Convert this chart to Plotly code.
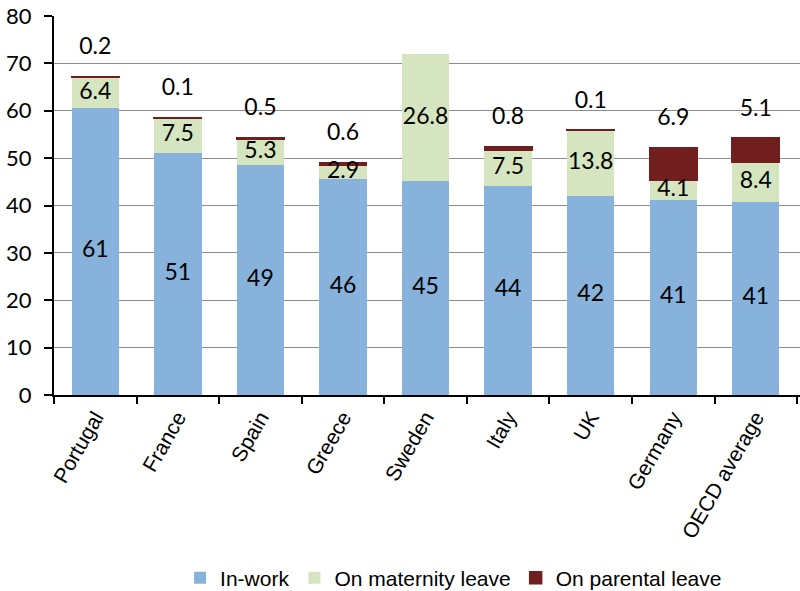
import plotly.graph_objects as go

countries = ["Portugal", "France", "Spain", "Greece", "Sweden", "Italy", "UK", "Germany", "OECD average"]
in_work = [60.6, 51.0, 48.6, 45.6, 45.1, 44.1, 42.0, 41.2, 40.7]
maternity = [6.4, 7.5, 5.3, 2.9, 26.8, 7.5, 13.8, 4.1, 8.4]
parental = [0.2, 0.1, 0.5, 0.6, None, 0.8, 0.1, 6.9, 5.1]

BLUE = "#87B2DB"
GREEN = "#D5E5BF"
RED = "#701F1E"
LABEL_FONT = dict(family="Lato, 'Open Sans', sans-serif", size=23, color="black")
LABEL_OFFSET = 6.0

fig = go.Figure()
fig.add_trace(go.Bar(x=countries, y=in_work, name="In-work", marker=dict(color=BLUE, line=dict(width=0))))
fig.add_trace(go.Bar(x=countries, y=maternity, name="On maternity leave", marker=dict(color=GREEN, line=dict(width=0))))
fig.add_trace(go.Bar(x=countries, y=parental, name="On parental leave",
                     marker=dict(color=RED, line=dict(color=RED, width=1.5))))

# labels
blue_mid = [b / 2 for b in in_work]
green_mid = [b + g / 2 for b, g in zip(in_work, maternity)]
red_x, red_y, red_t = [], [], []
for c, b, g, p in zip(countries, in_work, maternity, parental):
    if p is None:
        continue
    red_x.append(c)
    red_y.append(b + g + p + LABEL_OFFSET)
    red_t.append(f"{p:.1f}")

fig.add_trace(go.Scatter(x=countries, y=blue_mid, mode="text", text=[f"{round(b):d}" for b in in_work],
                         textfont=LABEL_FONT, showlegend=False, hoverinfo="skip"))
fig.add_trace(go.Scatter(x=countries, y=green_mid, mode="text", text=[f"{g:.1f}" for g in maternity],
                         textfont=LABEL_FONT, showlegend=False, hoverinfo="skip"))
fig.add_trace(go.Scatter(x=red_x, y=red_y, mode="text", text=red_t,
                         textfont=LABEL_FONT, showlegend=False, hoverinfo="skip"))

fig.update_layout(
    width=800, height=591,
    barmode="stack",
    bargap=0.427,
    plot_bgcolor="white",
    paper_bgcolor="white",
    margin=dict(l=54, r=0, t=16, b=196, autoexpand=False),
    showlegend=True,
    legend=dict(orientation="h", x=0.169, xanchor="left", y=-0.483, yanchor="middle",
                font=dict(family="'Liberation Sans', Arial, sans-serif", size=21, color="black"),
                traceorder="normal"),
    xaxis=dict(
        range=[-0.5, 8.535],
        showline=True, linecolor="black", linewidth=2,
        ticks="outside", tickson="boundaries", ticklen=7, tickcolor="black", tickwidth=1.5,
        tickangle=-60,
        tickfont=dict(family="'Liberation Sans', Arial, sans-serif", size=21, color="black"),
        showgrid=False,
    ),
    yaxis=dict(
        range=[0, 80], dtick=10,
        showline=True, linecolor="black", linewidth=2,
        ticks="outside", ticklen=8, tickcolor="black", tickwidth=1.5,
        ticklabelstandoff=8,
        tickfont=dict(family="Lato, 'Open Sans', sans-serif", size=22, color="black"),
        showgrid=True, gridcolor="#8C8C8C", gridwidth=1.2,
        zeroline=False,
    ),
)

fig.write_html("out.html")
